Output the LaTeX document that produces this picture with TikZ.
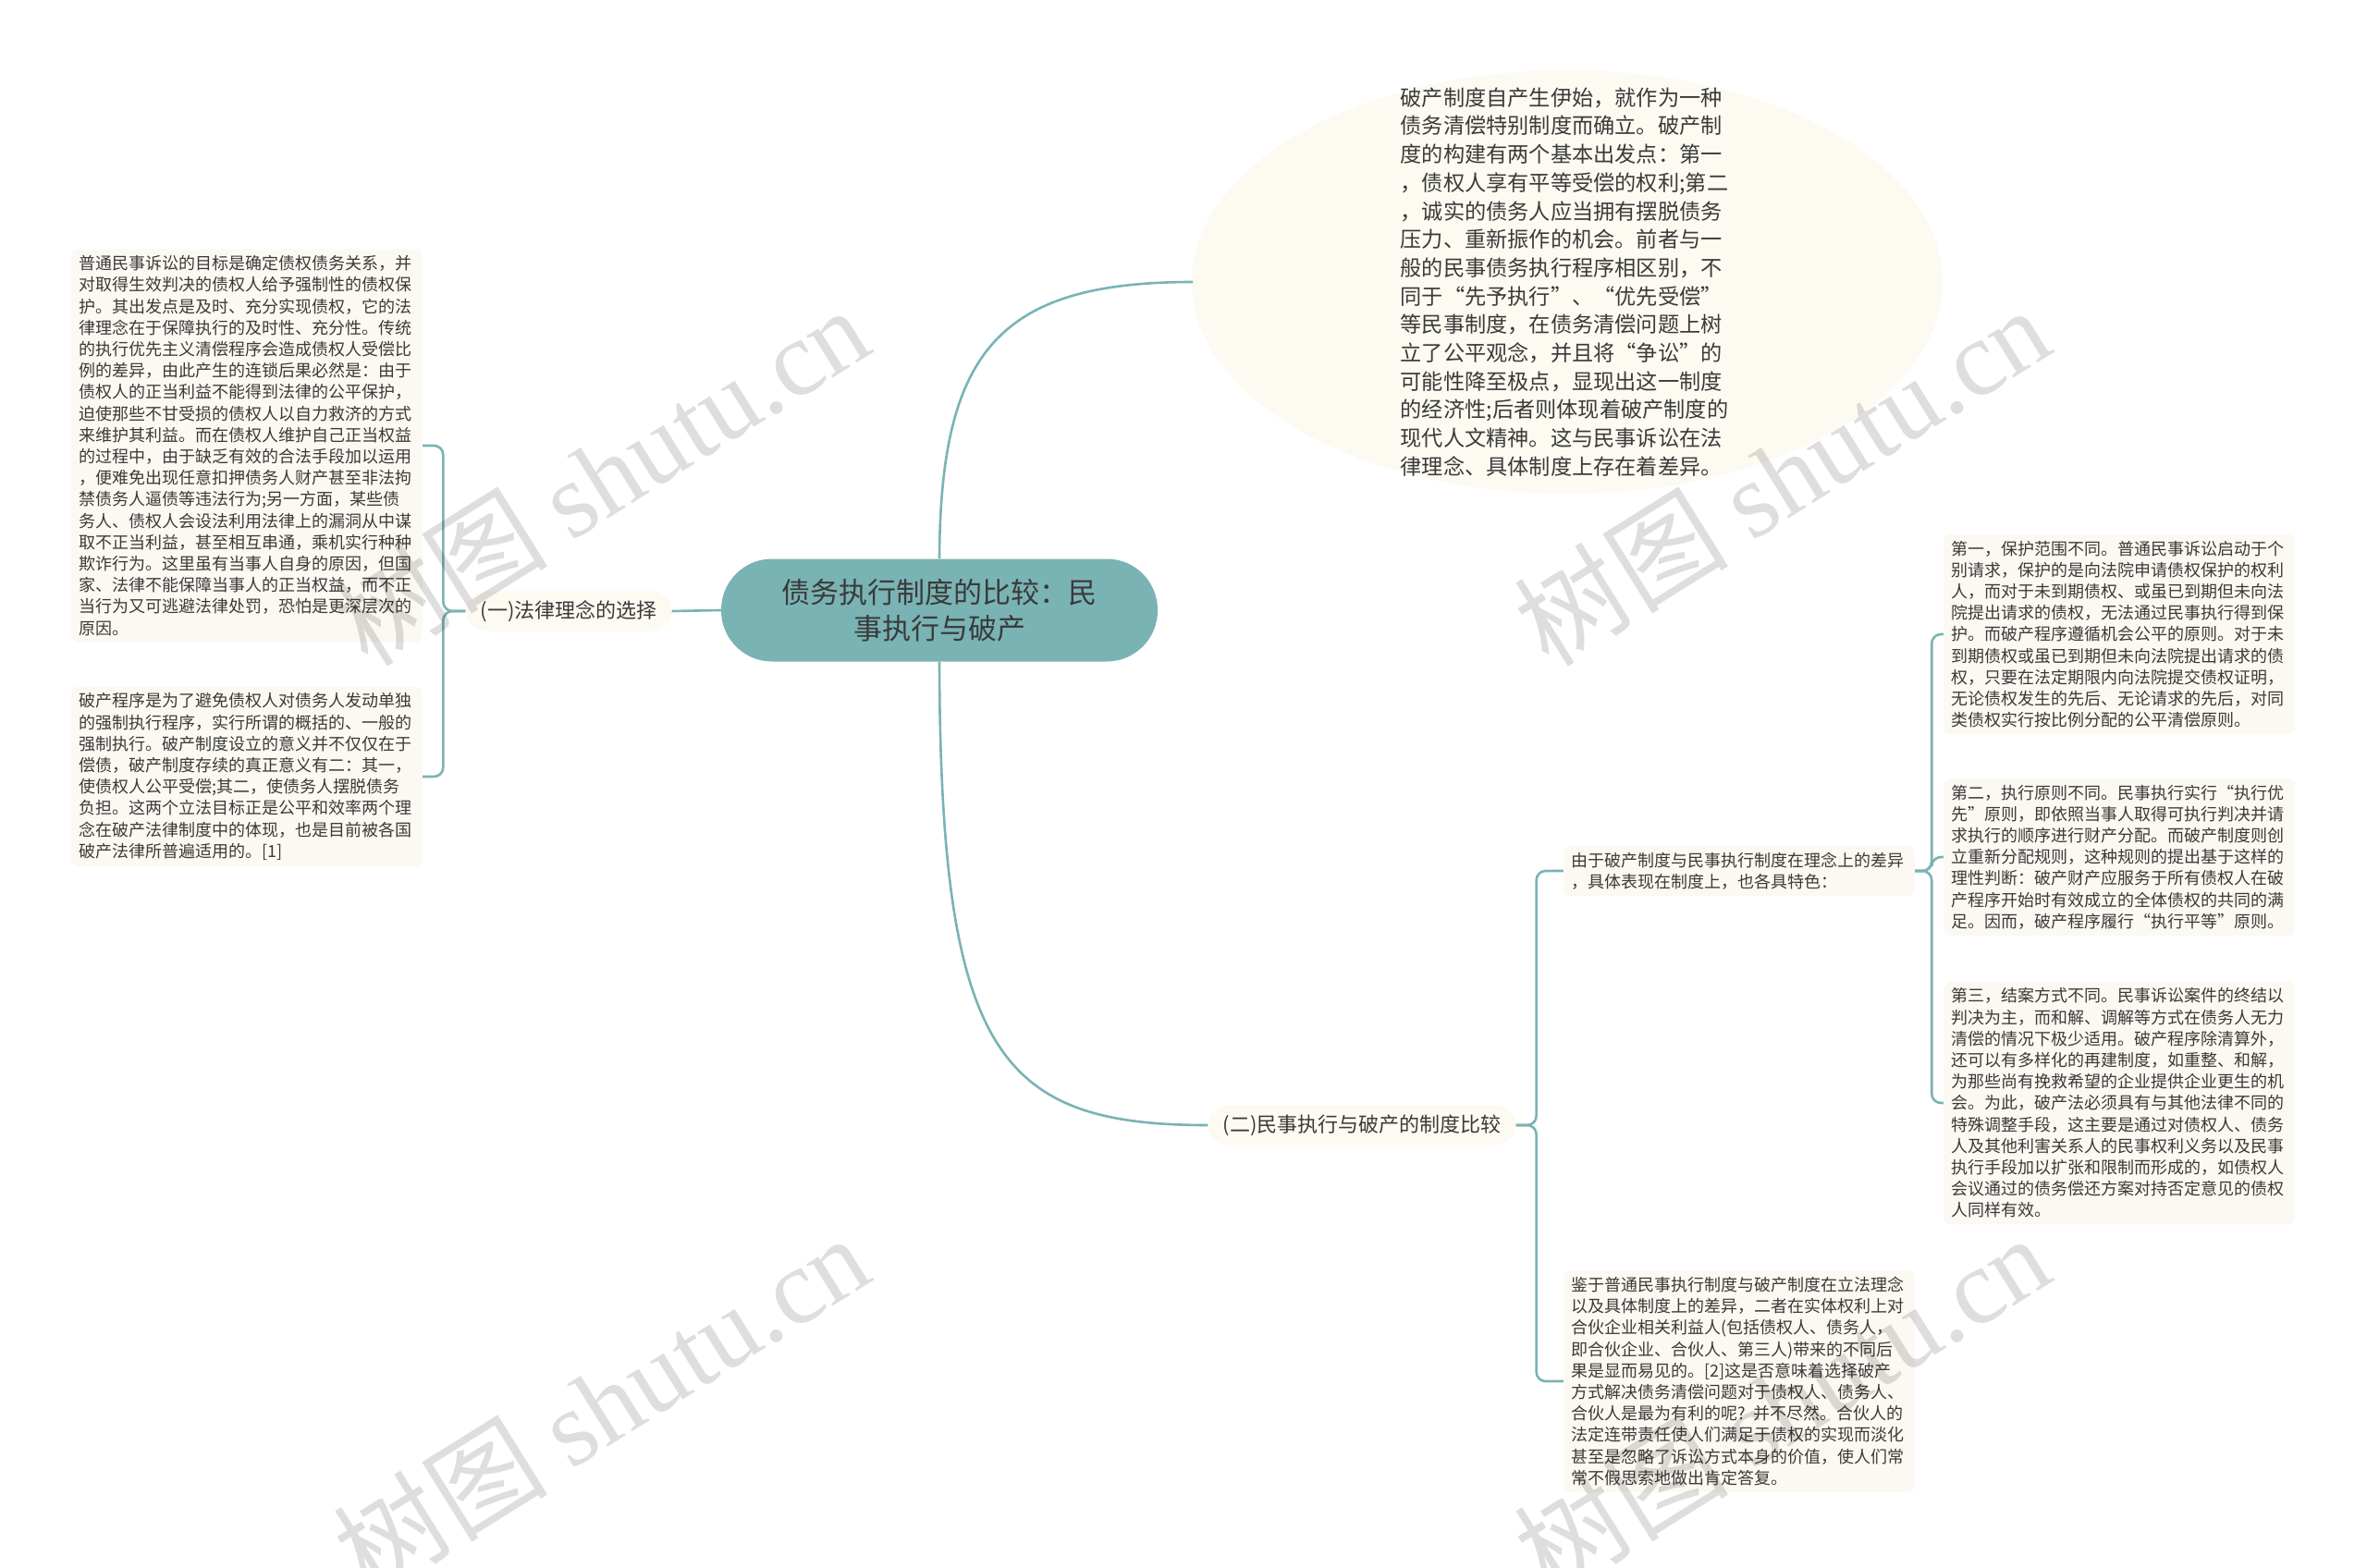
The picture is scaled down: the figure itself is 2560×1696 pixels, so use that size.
\documentclass[tikz,border=0pt]{standalone}
\usepackage{fontspec}
\setmainfont{Noto Sans CJK SC}
\newfontfamily\wmserif{Liberation Serif}
\usetikzlibrary{shapes.geometric}
\definecolor{teal1}{HTML}{7AB3B4}
\definecolor{cream}{HTML}{FCFAF1}
\definecolor{leafbg}{HTML}{FBF9F1}
\definecolor{txt}{HTML}{3A3A3A}
\tikzset{
  conn/.style={draw=teal1, line width=2.6pt},
  leaf/.style={fill=leafbg, rounded corners=8pt, text=txt, align=left, text width=364pt, inner xsep=8pt, inner ysep=7pt, font=\fontsize{18}{23.2}\selectfont},
  branch/.style={fill=cream, rounded corners=22pt, text=txt, inner xsep=16pt, inner ysep=10pt, font=\fontsize{22}{26}\selectfont},
  wm/.style={text=black, opacity=0.13, font=\fontsize{116}{120}\selectfont, rotate=32}
}
\begin{document}
\begin{tikzpicture}[x=1pt,y=-1pt]
\useasboundingbox (0,0) rectangle (2560,1696);
\fill[white] (0,0) rectangle (2560,1696);

% ellipse
\fill[cream] (1695,305) ellipse [x radius=406, y radius=229];
\node[text=txt, align=left, inner sep=0pt, font=\fontsize{23.2}{30.7}\selectfont] (top) at (1692,305) {破产制度自产生伊始，就作为一种\\债务清偿特别制度而确立。破产制\\度的构建有两个基本出发点：第一\\，债权人享有平等受偿的权利;第二\\，诚实的债务人应当拥有摆脱债务\\压力、重新振作的机会。前者与一\\般的民事债务执行程序相区别，不\\同于“先予执行”、“优先受偿”\\等民事制度，在债务清偿问题上树\\立了公平观念，并且将“争讼”的\\可能性降至极点，显现出这一制度\\的经济性;后者则体现着破产制度的\\现代人文精神。这与民事诉讼在法\\律理念、具体制度上存在着差异。};
\coordinate (topw) at (1290,305);

% center
\node[fill=teal1, rounded corners=55pt, minimum width=472pt, minimum height=111pt, align=center, text=txt, font=\fontsize{31}{39}\selectfont] (c) at (1016,660) {债务执行制度的比较：民\\事执行与破产};

% branches
\node[branch] (b1) at (615,661) {(一)法律理念的选择};
\node[branch] (b2) at (1473,1217) {(二)民事执行与破产的制度比较};

% left leaves
\node[leaf] (l1) at (267,482) {普通民事诉讼的目标是确定债权债务关系，并\\对取得生效判决的债权人给予强制性的债权保\\护。其出发点是及时、充分实现债权，它的法\\律理念在于保障执行的及时性、充分性。传统\\的执行优先主义清偿程序会造成债权人受偿比\\例的差异，由此产生的连锁后果必然是：由于\\债权人的正当利益不能得到法律的公平保护，\\迫使那些不甘受损的债权人以自力救济的方式\\来维护其利益。而在债权人维护自己正当权益\\的过程中，由于缺乏有效的合法手段加以运用\\，便难免出现任意扣押债务人财产甚至非法拘\\禁债务人逼债等违法行为;另一方面，某些债\\务人、债权人会设法利用法律上的漏洞从中谋\\取不正当利益，甚至相互串通，乘机实行种种\\欺诈行为。这里虽有当事人自身的原因，但国\\家、法律不能保障当事人的正当权益，而不正\\当行为又可逃避法律处罚，恐怕是更深层次的\\原因。};
\node[leaf] (l2) at (267,840) {破产程序是为了避免债权人对债务人发动单独\\的强制执行程序，实行所谓的概括的、一般的\\强制执行。破产制度设立的意义并不仅仅在于\\偿债，破产制度存续的真正意义有二：其一，\\使债权人公平受偿;其二，使债务人摆脱债务\\负担。这两个立法目标正是公平和效率两个理\\念在破产法律制度中的体现，也是目前被各国\\破产法律所普遍适用的。[1]};

% right side
\node[leaf] (s1) at (1881,942) {由于破产制度与民事执行制度在理念上的差异\\，具体表现在制度上，也各具特色：};
\node[leaf] (s2) at (1881,1494) {鉴于普通民事执行制度与破产制度在立法理念\\以及具体制度上的差异，二者在实体权利上对\\合伙企业相关利益人(包括债权人、债务人，\\即合伙企业、合伙人、第三人)带来的不同后\\果是显而易见的。[2]这是否意味着选择破产\\方式解决债务清偿问题对于债权人、债务人、\\合伙人是最为有利的呢? 并不尽然。合伙人的\\法定连带责任使人们满足于债权的实现而淡化\\甚至是忽略了诉讼方式本身的价值，使人们常\\常不假思索地做出肯定答复。};

\node[leaf] (r1) at (2292,686) {第一，保护范围不同。普通民事诉讼启动于个\\别请求，保护的是向法院申请债权保护的权利\\人，而对于未到期债权、或虽已到期但未向法\\院提出请求的债权，无法通过民事执行得到保\\护。而破产程序遵循机会公平的原则。对于未\\到期债权或虽已到期但未向法院提出请求的债\\权，只要在法定期限内向法院提交债权证明，\\无论债权发生的先后、无论请求的先后，对同\\类债权实行按比例分配的公平清偿原则。};
\node[leaf] (r2) at (2292,927) {第二，执行原则不同。民事执行实行“执行优\\先”原则，即依照当事人取得可执行判决并请\\求执行的顺序进行财产分配。而破产制度则创\\立重新分配规则，这种规则的提出基于这样的\\理性判断：破产财产应服务于所有债权人在破\\产程序开始时有效成立的全体债权的共同的满\\足。因而，破产程序履行“执行平等”原则。};
\node[leaf] (r3) at (2292,1193) {第三，结案方式不同。民事诉讼案件的终结以\\判决为主，而和解、调解等方式在债务人无力\\清偿的情况下极少适用。破产程序除清算外，\\还可以有多样化的再建制度，如重整、和解，\\为那些尚有挽救希望的企业提供企业更生的机\\会。为此，破产法必须具有与其他法律不同的\\特殊调整手段，这主要是通过对债权人、债务\\人及其他利害关系人的民事权利义务以及民事\\执行手段加以扩张和限制而形成的，如债权人\\会议通过的债务偿还方案对持否定意见的债权\\人同样有效。};

% connectors
\draw[conn] (c.north) .. controls (1017,380) and (1080,305) .. (topw);
\draw[conn] (c.south) .. controls (1017,1140) and (1080,1217) .. (b2.west);
\draw[conn] (c.west) -- (b1.east);
\draw[conn, rounded corners=10pt] (b1.west) -- ++(-24,0) |- (l1.east);
\draw[conn, rounded corners=10pt] (b1.west) -- ++(-24,0) |- (l2.east);
\draw[conn, rounded corners=10pt] (b2.east) -- ++(22,0) |- (s1.west);
\draw[conn, rounded corners=10pt] (b2.east) -- ++(22,0) |- (s2.west);
\draw[conn, rounded corners=10pt] (s1.east) -- ++(18,0) |- (r1.west);
\draw[conn, rounded corners=10pt] (s1.east) -- ++(18,0) |- (r2.west);
\draw[conn, rounded corners=10pt] (s1.east) -- ++(18,0) |- (r3.west);

% watermarks
\node[wm] (w1) at (650,514) {树图 {\wmserif shutu.cn}};
\node[wm] (w2) at (1927,514) {树图 {\wmserif shutu.cn}};
\node[wm] (w3) at (650,1518) {树图 {\wmserif shutu.cn}};
\node[wm] (w4) at (1927,1518) {树图 {\wmserif shutu.cn}};
\end{tikzpicture}
\end{document}
